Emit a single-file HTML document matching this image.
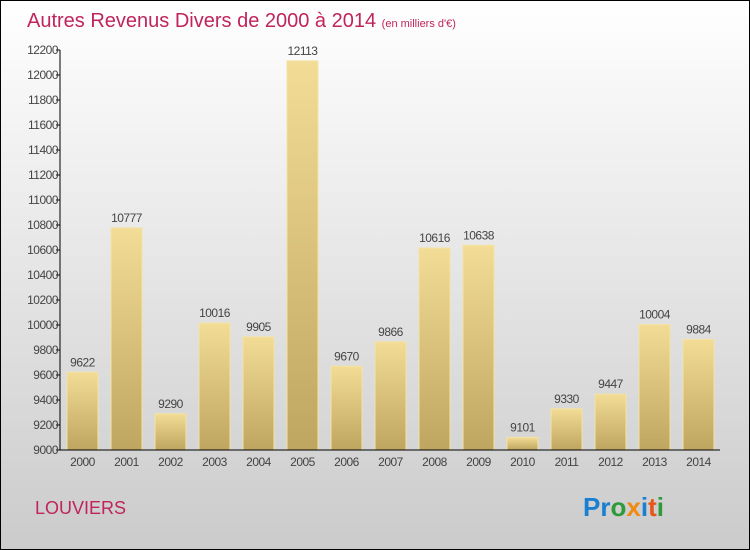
<!DOCTYPE html>
<html><head><meta charset="utf-8"><style>
body{margin:0;}
#c{width:750px;height:550px;position:relative;}
svg{display:block;font-family:"Liberation Sans",sans-serif;}
</style></head><body>
<div id="c">
<svg id="s" width="750" height="550">
<defs>
<linearGradient id="bg" x1="0" y1="0" x2="0" y2="1"><stop offset="0" stop-color="#ffffff"/><stop offset="1" stop-color="#cbcbcb"/></linearGradient>
<linearGradient id="bar" x1="0" y1="0" x2="0" y2="1"><stop offset="0" stop-color="#f2dc96"/><stop offset="1" stop-color="#bfa660"/></linearGradient>
</defs>
<rect x="0.5" y="0.5" width="749" height="549" fill="url(#bg)" stroke="#000"/>
<text x="27" y="27" font-size="20" fill="#c0245c">Autres Revenus Divers de 2000 à 2014 <tspan font-size="11">(en milliers d'€)</tspan></text>
<text x="35" y="514" font-size="18" fill="#c0245c">LOUVIERS</text>
<text x="583" y="516" font-size="26" font-weight="bold"><tspan fill="#1a7fd0">Pr</tspan><tspan fill="#2e9a3a">o</tspan><tspan fill="#f08a10">x</tspan><tspan fill="#1a7fd0">i</tspan><tspan fill="#e8541a">t</tspan><tspan fill="#2e9a3a">i</tspan></text>
<g id="g"></g>
</svg></div>
<script>
const categories=["2000","2001","2002","2003","2004","2005","2006","2007","2008","2009","2010","2011","2012","2013","2014"];
const values=[9622,10777,9290,10016,9905,12113,9670,9866,10616,10638,9101,9330,9447,10004,9884];
const yTicks=[9000,9200,9400,9600,9800,10000,10200,10400,10600,10800,11000,11200,11400,11600,11800,12000,12200];
const NS="http://www.w3.org/2000/svg";
const g=document.getElementById('g');
const y=v=>450-(v-9000)*400/3200;
const x=i=>82.5+i*44;
function mk(t,a,txt){const e=document.createElementNS(NS,t);for(const k in a)e.setAttribute(k,a[k]);if(txt!==undefined)e.textContent=txt;g.appendChild(e);return e;}
yTicks.forEach(v=>{
 const t=mk('line',{x1:56,x2:60,y1:y(v),y2:y(v),stroke:'#000'});
 
 
 const l=mk('text',{x:58,y:y(v)+4,'font-size':12,'text-anchor':'end',fill:'#444','letter-spacing':'-0.5'},v);
 
 
});
values.forEach((v,i)=>{
 const b=mk('rect',{x:x(i)-15.5,y:y(v),width:31,height:450-y(v),fill:'url(#bar)',stroke:'#f3e3a6','stroke-width':1});
 
 
 const l=mk('text',{x:x(i),y:y(v)-6,'font-size':12,'text-anchor':'middle',fill:'#444','letter-spacing':'-0.5'},v);
 
 
 const c=mk('text',{x:x(i),y:466,'font-size':12,'text-anchor':'middle',fill:'#444','letter-spacing':'-0.5'},categories[i]);
 
 
});
const ya=mk('line',{x1:60,x2:60,y1:50,y2:450,stroke:'#000'});


const xa=mk('line',{x1:60,x2:720,y1:450,y2:450,stroke:'#000'});


</script>
</body></html>
